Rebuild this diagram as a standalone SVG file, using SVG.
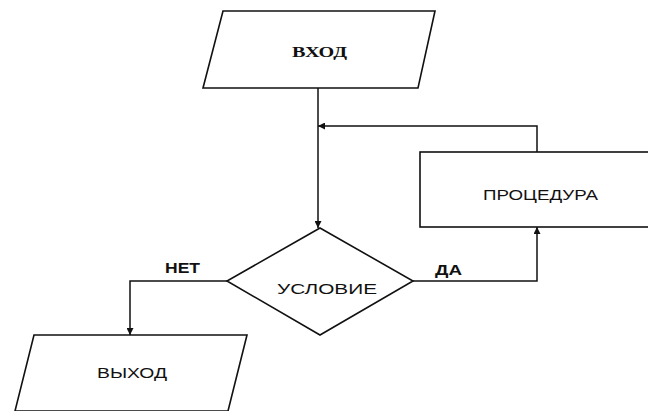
<svg xmlns="http://www.w3.org/2000/svg" width="648" height="411" viewBox="0 0 648 411">
<defs>
<marker id="arr" viewBox="0 0 10 10" refX="10" refY="5" markerWidth="7" markerHeight="7" orient="auto" markerUnits="userSpaceOnUse">
<path d="M0,0 L10,5 L0,10 z" fill="#111"/>
</marker>
<style>
.s{fill:#fff;stroke:#111;stroke-width:1.6}
.c{fill:none;stroke:#111;stroke-width:1.5}
.t{font-family:"Liberation Sans",Arial,sans-serif;font-size:14px;fill:#111}
.serif{font-family:"Liberation Serif","Times New Roman",serif;font-weight:bold}
.l{font-family:"Liberation Sans",Arial,sans-serif;font-size:14px;font-weight:bold;fill:#111}
</style>
</defs>
<rect width="648" height="411" fill="#fff"/>
<g id="vhod">
<polygon class="s" points="223,11 435,11 418,88 203,88"/>
<text class="t serif" x="292" y="57" textLength="55" lengthAdjust="spacingAndGlyphs">ВХОД</text>
</g>
<g id="procedura">
<rect class="s" x="420" y="152" width="240" height="75"/>
<text class="t" x="483" y="200" textLength="115" lengthAdjust="spacingAndGlyphs">ПРОЦЕДУРА</text>
</g>
<g id="uslovie">
<polygon class="s" points="320,228 413,281 320,335 227,281"/>
<text class="t" x="277" y="294" textLength="100" lengthAdjust="spacingAndGlyphs">УСЛОВИЕ</text>
</g>
<g id="vyhod">
<polygon class="s" points="34,335 247,335 228,411 15,411"/>
<text class="t" x="97" y="378" textLength="70" lengthAdjust="spacingAndGlyphs">ВЫХОД</text>
</g>
<g id="connectors">
<path class="c" d="M318,88 V228" marker-end="url(#arr)"/>
<path class="c" d="M537,152 V126 H318" marker-end="url(#arr)"/>
<path class="c" d="M227,281 H130 V335" marker-end="url(#arr)"/>
<path class="c" d="M413,281 H537 V227" marker-end="url(#arr)"/>
<text class="l" x="165" y="273" textLength="35" lengthAdjust="spacingAndGlyphs">НЕТ</text>
<text class="l" x="435" y="275" textLength="27" lengthAdjust="spacingAndGlyphs">ДА</text>
</g>
</svg>
